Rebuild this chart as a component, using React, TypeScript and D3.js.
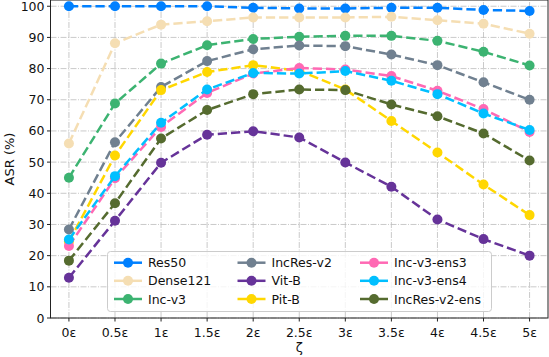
import React, { useEffect, useRef } from 'react'
import * as d3 from 'd3'

const tickLabels = ['0ε', '0.5ε', '1ε', '1.5ε', '2ε', '2.5ε', '3ε', '3.5ε', '4ε', '4.5ε', '5ε']

const modelNames = ['Res50', 'Dense121', 'Inc-v3', 'IncRes-v2', 'Vit-B', 'Pit-B', 'Inc-v3-ens3', 'Inc-v3-ens4', 'IncRes-v2-ens']
const modelColors = ['#0080ff', '#f5deb3', '#3cb371', '#708090', '#663399', '#ffd700', '#ff69b4', '#00bfff', '#556b2f']

const res50 = [100, 100, 100, 100, 99.5, 99.3, 99.3, 99.5, 99.5, 98.8, 98.5]
const dense121 = [56, 88.1, 94.1, 95.2, 96.4, 96.4, 96.4, 96.6, 95.5, 94.4, 91.2]
const incV3 = [45, 68.8, 81.6, 87.5, 89.5, 90.2, 90.5, 90.5, 88.9, 85.4, 81.0]
const incResV2 = [28.4, 56.4, 74.1, 82.4, 86.2, 87.4, 87.2, 84.5, 81.1, 75.6, 70.0]
const vitB = [12.9, 31.2, 49.8, 58.8, 59.9, 57.9, 49.9, 42.1, 31.6, 25.3, 20.0]
const pitB = [24.5, 52.1, 73.1, 78.9, 81.1, 79.3, 73.3, 63.2, 53.1, 42.8, 33.0]
const incV3Ens3 = [23.1, 44.8, 61.3, 72.2, 78.4, 80.2, 79.7, 77.6, 72.9, 67.0, 59.7]
const incV3Ens4 = [25.2, 45.5, 62.6, 73.3, 78.6, 78.4, 79.2, 76.1, 71.8, 65.6, 60.3]
const incResV2Ens = [18.4, 36.8, 57.6, 66.7, 71.8, 73.3, 73.1, 68.5, 64.7, 59.2, 50.5]

const allSeries = [res50, dense121, incV3, incResV2, vitB, pitB, incV3Ens3, incV3Ens4, incResV2Ens]
const yTicks = [0, 10, 20, 30, 40, 50, 60, 70, 80, 90, 100]

const W = 549
const H = 357

const App = () => {
  const ref = useRef<SVGSVGElement>(null)

  useEffect(() => {
    const root = d3.select(ref.current)
    root.selectAll('*').remove()

    const margin = { top: 0, right: 1, bottom: 39, left: 50.5 }
    const x = d3.scaleLinear().domain([-0.4, 10.4]).range([margin.left, W - margin.right])
    const y = d3.scaleLinear().domain([0, 102]).range([H - margin.bottom, margin.top])
    const font = 'DejaVu Sans, sans-serif'

    const svg = root.append('g')

    // grid
    const grid = svg.append('g').attr('stroke', '#bdbdbd').attr('stroke-width', 0.8).attr('stroke-dasharray', '6,1.5,1,1.5')
    tickLabels.forEach((_, i) => {
      grid.append('line').attr('x1', x(i)).attr('x2', x(i)).attr('y1', y(0)).attr('y2', y(102))
    })
    yTicks.forEach(t => {
      grid.append('line').attr('x1', x(-0.4)).attr('x2', x(10.4)).attr('y1', y(t)).attr('y2', y(t))
    })

    // lines
    const line = d3.line<number>().x((_, i) => x(i)).y(d => y(d))
    allSeries.forEach((vals, k) => {
      const g = svg.append('g')
      g.append('path')
        .datum(vals)
        .attr('d', line)
        .attr('fill', 'none')
        .attr('stroke', modelColors[k])
        .attr('stroke-width', 2.5)
        .attr('stroke-dasharray', '9.25,4')
      g.selectAll('circle')
        .data(vals)
        .enter()
        .append('circle')
        .attr('cx', (_, i) => x(i))
        .attr('cy', d => y(d))
        .attr('r', 5)
        .attr('fill', modelColors[k])
    })

    // spines
    svg.append('rect')
      .attr('x', x(-0.4)).attr('y', y(102))
      .attr('width', x(10.4) - x(-0.4)).attr('height', y(0) - y(102))
      .attr('fill', 'none').attr('stroke', '#222').attr('stroke-width', 1)

    // x axis
    const xAxis = svg.append('g')
    tickLabels.forEach((lab, i) => {
      xAxis.append('line').attr('x1', x(i)).attr('x2', x(i)).attr('y1', y(0)).attr('y2', y(0) + 3.5).attr('stroke', '#222')
      xAxis.append('text').text(lab).attr('x', x(i)).attr('y', y(0) + 19)
        .attr('text-anchor', 'middle').attr('font-size', 12.5).attr('font-family', font).attr('fill', '#111')
    })
    svg.append('text').text('ζ').attr('x', (x(-0.4) + x(10.4)) / 2).attr('y', 352)
      .attr('text-anchor', 'middle').attr('font-size', 13).attr('font-family', font).attr('fill', '#111')

    // y axis
    yTicks.forEach(t => {
      svg.append('line').attr('x1', x(-0.4) - 3.5).attr('x2', x(-0.4)).attr('y1', y(t)).attr('y2', y(t)).attr('stroke', '#222')
      svg.append('text').text(t).attr('x', x(-0.4) - 6).attr('y', y(t) + 4.5)
        .attr('text-anchor', 'end').attr('font-size', 12.5).attr('font-family', font).attr('fill', '#111')
    })
    svg.append('text').text('ASR (%)')
      .attr('transform', `translate(14, ${(y(0) + y(102)) / 2}) rotate(-90)`)
      .attr('text-anchor', 'middle').attr('font-size', 13).attr('font-family', font).attr('fill', '#111')

    // legend
    const leg = svg.append('g')
    leg.append('rect').attr('x', 107.5).attr('y', 251.5).attr('width', 384).attr('height', 60).attr('rx', 3)
      .attr('fill', 'white').attr('fill-opacity', 0.8).attr('stroke', '#cccccc').attr('stroke-width', 1)
    const colX = [128, 251.5, 374]
    const rowY = [262.7, 280.8, 299]
    modelNames.forEach((name, k) => {
      const cx = colX[Math.floor(k / 3)]
      const cy = rowY[k % 3]
      leg.append('line').attr('x1', cx - 14).attr('x2', cx + 14).attr('y1', cy).attr('y2', cy)
        .attr('stroke', modelColors[k]).attr('stroke-width', 2.5)
      leg.append('circle').attr('cx', cx).attr('cy', cy).attr('r', 5).attr('fill', modelColors[k])
      leg.append('text').text(name).attr('x', cx + 20).attr('y', cy + 4.5)
        .attr('font-size', 12.5).attr('font-family', font).attr('fill', '#111')
    })
  }, [])

  return (
    <svg ref={ref} width={W} height={H} style={{ position: 'absolute', left: 0, top: 0, background: 'white' }} />
  )
}

export default App
